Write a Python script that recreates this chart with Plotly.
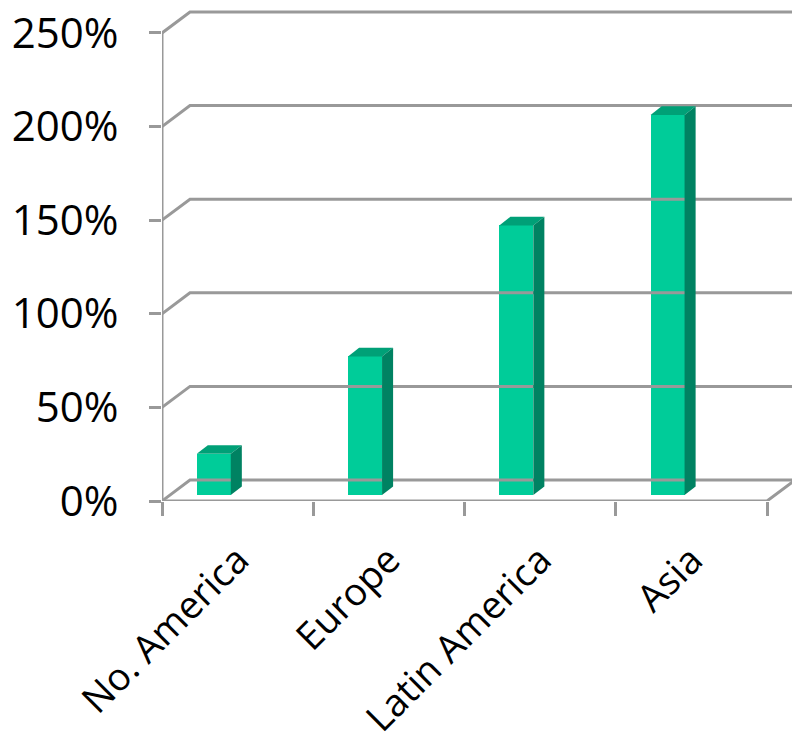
import plotly.graph_objects as go

# ---- data ----
categories = ["No. America", "Europe", "Latin America", "Asia"]
values = [0.22, 0.74, 1.44, 2.03]
y_ticks = [0, 0.5, 1.0, 1.5, 2.0, 2.5]

# ---- styling / geometry (data units) ----
FRONT = "#00CC99"
TOP = "#00A077"
SIDE = "#008262"
GRID = "#999999"
LW = 3
FONT = "Open Sans"
FS = 42

X0, X1 = -0.5, len(categories) - 0.5        # front plane extent
XMAX = 3.665
YMAX = 2.676
DX, DY = 0.185, 0.112                        # wall depth offset
BAR_OFF, BAR_W = -0.1576, 0.2248             # bar front face position/width
BAR_BASE = 0.032
SDX, SDY = 0.073, 0.046                      # bar depth

fig = go.Figure()

# back wall gridlines with diagonal connectors from front axis
for v in y_ticks:
    fig.add_trace(go.Scatter(
        x=[X0, X0 + DX, XMAX + 1], y=[v, v + DY, v + DY], mode="lines",
        line=dict(color=GRID, width=LW), hoverinfo="skip", showlegend=False))

# front vertical axis line
fig.add_trace(go.Scatter(x=[X0, X0], y=[0, y_ticks[-1]], mode="lines",
                         line=dict(color=GRID, width=LW), hoverinfo="skip", showlegend=False))
# front floor edge and right diagonal
fig.add_trace(go.Scatter(x=[X0, X1, X1 + DX], y=[0, 0, DY], mode="lines",
                         line=dict(color=GRID, width=LW), hoverinfo="skip", showlegend=False))

# bars: front faces
xs = [i + BAR_OFF for i in range(len(categories))]
fig.add_trace(go.Bar(x=xs, y=values, base=[BAR_BASE] * len(values), width=BAR_W,
                     marker=dict(color=FRONT, line=dict(width=0)), showlegend=False,
                     hovertext=categories))

# bars: top and side faces
for xc, v in zip(xs, values):
    xl, xr = xc - BAR_W / 2, xc + BAR_W / 2
    top = BAR_BASE + v
    fig.add_trace(go.Scatter(
        x=[xl, xr, xr + SDX, xl + SDX, xl], y=[top, top, top + SDY, top + SDY, top],
        fill="toself", fillcolor=TOP, mode="lines", line=dict(width=0, color=TOP),
        hoverinfo="skip", showlegend=False))
    fig.add_trace(go.Scatter(
        x=[xr, xr + SDX, xr + SDX, xr, xr],
        y=[BAR_BASE, BAR_BASE + SDY, top + SDY, top, BAR_BASE],
        fill="toself", fillcolor=SIDE, mode="lines", line=dict(width=0, color=SIDE),
        hoverinfo="skip", showlegend=False))

fig.update_layout(
    width=792, height=750,
    margin=dict(l=162, r=0, t=0, b=249),
    plot_bgcolor="white", paper_bgcolor="white",
    font=dict(family=FONT, size=FS, color="black"),
    bargap=0,
)
fig.update_xaxes(
    range=[X0, XMAX], showgrid=False, zeroline=False, showline=False, automargin=False,
    tickvals=list(range(len(categories))), ticktext=categories, tickangle=-45,
    tickfont=dict(size=38), ticks="", ticklabelstandoff=28,
    minor=dict(tickvals=[X0 + i for i in range(len(categories) + 1)], ticks="outside",
               ticklen=14, tickwidth=LW, tickcolor=GRID, showgrid=False),
)
fig.update_yaxes(
    range=[0, YMAX], showgrid=False, zeroline=False, showline=False, automargin=False,
    tickvals=y_ticks, tickformat=".0%", ticks="outside", ticklen=12,
    tickwidth=LW, tickcolor=GRID, ticklabelstandoff=22,
)

fig.write_html("out.html")
